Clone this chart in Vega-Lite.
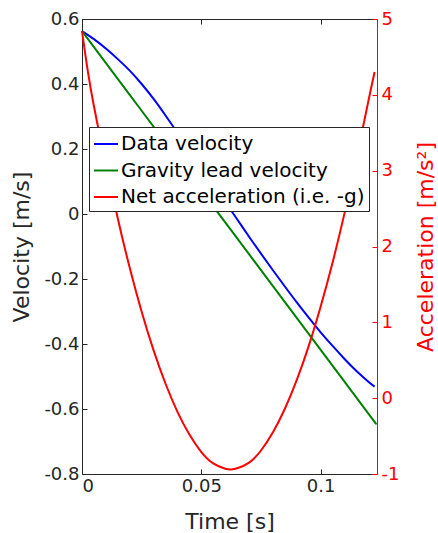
{
  "$schema": "https://vega.github.io/schema/vega-lite/v6.json",
  "width": 295,
  "height": 455,
  "autosize": "none",
  "padding": {"left": 82, "top": 19, "right": 61, "bottom": 59},
  "background": "white",
  "datasets": {
    "vel": [
      {"t": 0, "series": "Data velocity", "value": 0.563},
      {"t": 0.005, "series": "Data velocity", "value": 0.538},
      {"t": 0.01, "series": "Data velocity", "value": 0.509},
      {"t": 0.015, "series": "Data velocity", "value": 0.4765},
      {"t": 0.02, "series": "Data velocity", "value": 0.441},
      {"t": 0.025, "series": "Data velocity", "value": 0.400},
      {"t": 0.03, "series": "Data velocity", "value": 0.354},
      {"t": 0.035, "series": "Data velocity", "value": 0.303},
      {"t": 0.04, "series": "Data velocity", "value": 0.250},
      {"t": 0.045, "series": "Data velocity", "value": 0.198},
      {"t": 0.05, "series": "Data velocity", "value": 0.145},
      {"t": 0.055, "series": "Data velocity", "value": 0.091},
      {"t": 0.06, "series": "Data velocity", "value": 0.037},
      {"t": 0.065, "series": "Data velocity", "value": -0.016},
      {"t": 0.07, "series": "Data velocity", "value": -0.070},
      {"t": 0.075, "series": "Data velocity", "value": -0.122},
      {"t": 0.08, "series": "Data velocity", "value": -0.173},
      {"t": 0.085, "series": "Data velocity", "value": -0.223},
      {"t": 0.09, "series": "Data velocity", "value": -0.272},
      {"t": 0.095, "series": "Data velocity", "value": -0.319},
      {"t": 0.1, "series": "Data velocity", "value": -0.364},
      {"t": 0.105, "series": "Data velocity", "value": -0.406},
      {"t": 0.11, "series": "Data velocity", "value": -0.446},
      {"t": 0.115, "series": "Data velocity", "value": -0.483},
      {"t": 0.12, "series": "Data velocity", "value": -0.516},
      {"t": 0.1226, "series": "Data velocity", "value": -0.531},
      {"t": 0, "series": "Gravity lead velocity", "value": 0.563},
      {"t": 0.02, "series": "Gravity lead velocity", "value": 0.3668},
      {"t": 0.04, "series": "Gravity lead velocity", "value": 0.1706},
      {"t": 0.06, "series": "Gravity lead velocity", "value": -0.0256},
      {"t": 0.08, "series": "Gravity lead velocity", "value": -0.2218},
      {"t": 0.1, "series": "Gravity lead velocity", "value": -0.418},
      {"t": 0.12, "series": "Gravity lead velocity", "value": -0.6142},
      {"t": 0.1226, "series": "Gravity lead velocity", "value": -0.6397}
    ],
    "acc": [
      {"t": 0, "series": "Net acceleration (i.e. -g)", "value": 4.84},
      {"t": 0.0025, "series": "Net acceleration (i.e. -g)", "value": 4.30},
      {"t": 0.005, "series": "Net acceleration (i.e. -g)", "value": 3.85},
      {"t": 0.0075, "series": "Net acceleration (i.e. -g)", "value": 3.46},
      {"t": 0.01, "series": "Net acceleration (i.e. -g)", "value": 3.10},
      {"t": 0.015, "series": "Net acceleration (i.e. -g)", "value": 2.37},
      {"t": 0.02, "series": "Net acceleration (i.e. -g)", "value": 1.72},
      {"t": 0.025, "series": "Net acceleration (i.e. -g)", "value": 1.14},
      {"t": 0.03, "series": "Net acceleration (i.e. -g)", "value": 0.63},
      {"t": 0.035, "series": "Net acceleration (i.e. -g)", "value": 0.19},
      {"t": 0.04, "series": "Net acceleration (i.e. -g)", "value": -0.18},
      {"t": 0.045, "series": "Net acceleration (i.e. -g)", "value": -0.48},
      {"t": 0.05, "series": "Net acceleration (i.e. -g)", "value": -0.71},
      {"t": 0.055, "series": "Net acceleration (i.e. -g)", "value": -0.86},
      {"t": 0.06, "series": "Net acceleration (i.e. -g)", "value": -0.93},
      {"t": 0.0625, "series": "Net acceleration (i.e. -g)", "value": -0.94},
      {"t": 0.065, "series": "Net acceleration (i.e. -g)", "value": -0.925},
      {"t": 0.07, "series": "Net acceleration (i.e. -g)", "value": -0.85},
      {"t": 0.075, "series": "Net acceleration (i.e. -g)", "value": -0.69},
      {"t": 0.08, "series": "Net acceleration (i.e. -g)", "value": -0.45},
      {"t": 0.085, "series": "Net acceleration (i.e. -g)", "value": -0.14},
      {"t": 0.09, "series": "Net acceleration (i.e. -g)", "value": 0.24},
      {"t": 0.095, "series": "Net acceleration (i.e. -g)", "value": 0.69},
      {"t": 0.1, "series": "Net acceleration (i.e. -g)", "value": 1.21},
      {"t": 0.105, "series": "Net acceleration (i.e. -g)", "value": 1.79},
      {"t": 0.11, "series": "Net acceleration (i.e. -g)", "value": 2.44},
      {"t": 0.115, "series": "Net acceleration (i.e. -g)", "value": 3.16},
      {"t": 0.12, "series": "Net acceleration (i.e. -g)", "value": 3.92},
      {"t": 0.1226, "series": "Net acceleration (i.e. -g)", "value": 4.30}
    ]
  },
  "layer": [
    {
      "data": {"name": "vel"},
      "mark": {"type": "line", "strokeWidth": 2, "interpolate": "natural"},
      "encoding": {
        "x": {
          "field": "t", "type": "quantitative",
          "scale": {"domain": [0, 0.1236], "nice": false, "zero": false},
          "axis": {"title": "Time [s]", "values": [0, 0.05, 0.1], "labelExpr": "'' + datum.value", "tickSize": -5, "labelPadding": 8, "titleBaseline": "middle", "titleY": 47}
        },
        "y": {
          "field": "value", "type": "quantitative",
          "scale": {"domain": [-0.8, 0.6], "nice": false, "zero": false},
          "axis": {"title": "Velocity [m/s]", "values": [-0.8, -0.6, -0.4, -0.2, 0, 0.2, 0.4, 0.6], "labelExpr": "'' + datum.value", "tickSize": -5, "labelPadding": 8, "titleBaseline": "middle", "titleX": -61, "titleAngle": 270}
        },
        "color": {
          "field": "series", "type": "nominal",
          "scale": {"domain": ["Data velocity", "Gravity lead velocity", "Net acceleration (i.e. -g)"], "range": ["#0000ff", "#008000", "#ff0000"]},
          "legend": {"orient": "none", "legendX": 7, "legendY": 108, "title": null}
        }
      }
    },
    {
      "data": {"name": "acc"},
      "mark": {"type": "line", "strokeWidth": 2, "interpolate": "natural"},
      "encoding": {
        "x": {
          "field": "t", "type": "quantitative",
          "axis": {"orient": "top", "labels": false, "title": null, "values": [0, 0.05, 0.1], "tickSize": -5}
        },
        "y": {
          "field": "value", "type": "quantitative",
          "scale": {"domain": [-1, 5], "nice": false, "zero": false},
          "axis": {"orient": "right", "title": "Acceleration [m/s²]", "values": [-1, 0, 1, 2, 3, 4, 5], "labelExpr": "'' + datum.value", "domainColor": "#ff0000", "tickColor": "#ff0000", "labelColor": "#ff0000", "titleColor": "#ff0000", "tickSize": -5, "labelPadding": 9, "titleAngle": 270, "titleBaseline": "middle", "titleX": 48}
        },
        "color": {"field": "series", "type": "nominal"}
      }
    }
  ],
  "resolve": {"scale": {"y": "independent"}, "axis": {"x": "independent"}},
  "config": {
    "view": {"stroke": null},
    "axis": {
      "grid": false,
      "labelFont": "DejaVu Sans", "titleFont": "DejaVu Sans",
      "labelFontSize": 18, "titleFontSize": 22, "titleFontWeight": "normal",
      "domainColor": "#262626", "tickColor": "#262626", "labelColor": "#262626", "titleColor": "#262626",
      "domainWidth": 1, "tickWidth": 1
    },
    "legend": {
      "labelFont": "DejaVu Sans", "labelFontSize": 20, "labelColor": "#000000", "labelLimit": 400,
      "symbolType": "stroke", "symbolSize": 576, "symbolStrokeWidth": 2,
      "strokeColor": "#262626", "fillColor": "white", "padding": 4, "rowPadding": 3.5, "labelOffset": 2
    }
  }
}
